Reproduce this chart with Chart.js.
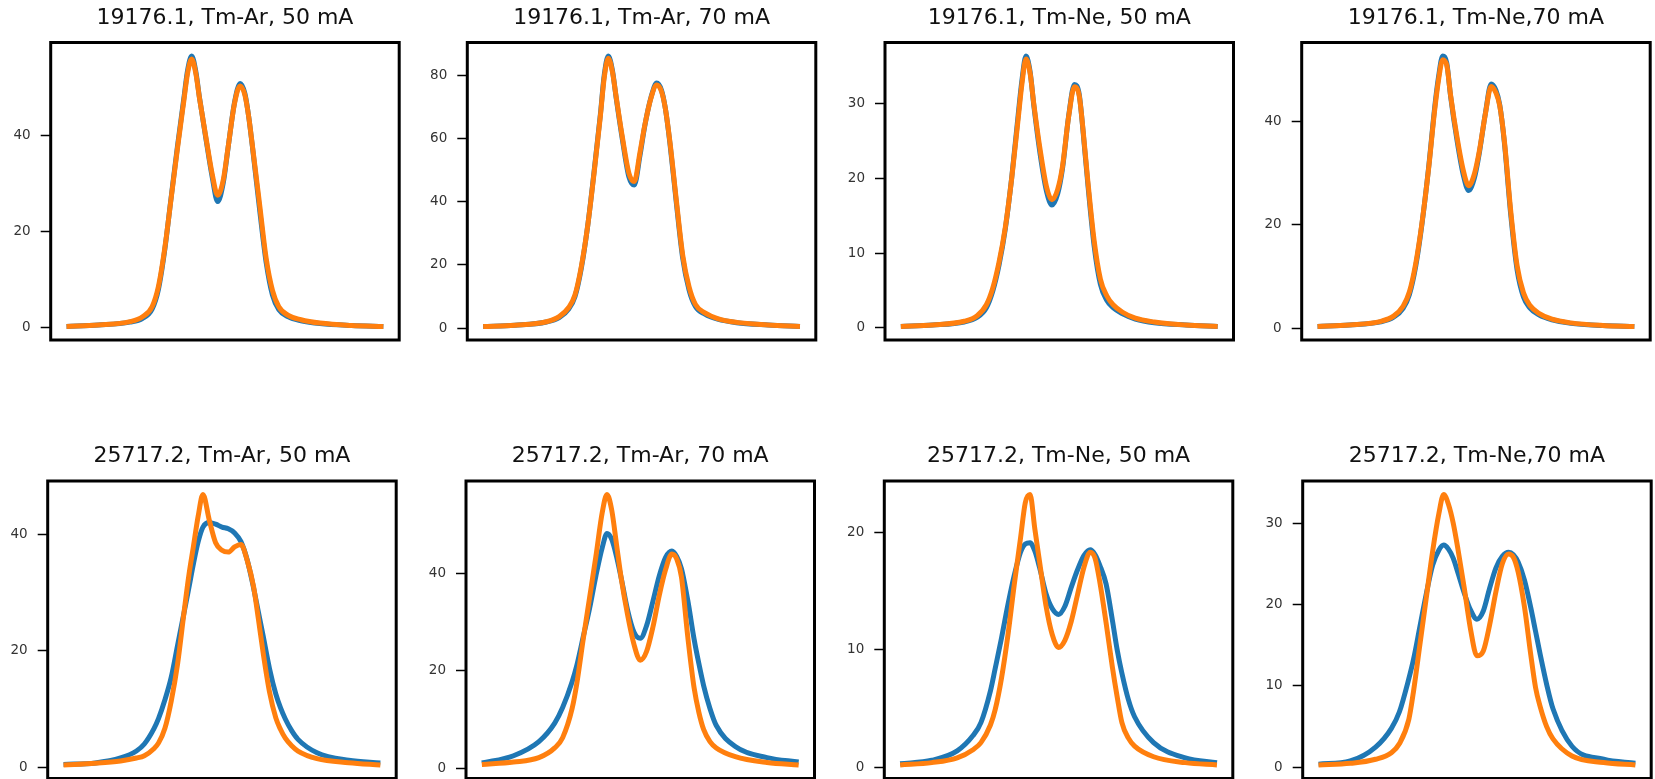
<!DOCTYPE html>
<html>
<head>
<meta charset="utf-8">
<script src="https://cdn.jsdelivr.net/npm/chart.js@4.4.1/dist/chart.umd.min.js"></script>
<style>
  html, body { margin: 0; padding: 0; background: #fff; overflow: hidden; }
  #wrap { position: relative; width: 1655px; height: 779px; }
  #wrap canvas { position: absolute; }
</style>
</head>
<body>
<div id="wrap"></div>
<script>
// sample positions along the (hidden) x axis, 0..100
const xTop = [0, 10, 20, 24, 27, 29, 31, 33, 35, 37, 38.2, 39.5, 40.8, 42, 44, 46, 47.7, 49.5, 51, 53, 54.8, 56.3, 57.5, 59, 61, 63, 65, 67, 70, 74, 80, 90, 100]
const xBottom = [0, 10, 18, 23, 25.5, 28.5, 30, 32, 34, 36, 38, 39.5, 41, 42.5, 44, 46, 48, 50, 52, 54, 56, 58, 60, 61.5, 63, 65, 67, 68.5, 70, 72, 74, 80, 90, 100]

// 19176.1 line
const ar50Blue19176 = [0.3, 0.6, 1.2, 2.0, 3.9, 8.0, 16.2, 27, 37.6, 47.5, 53.4, 56.4, 53.2, 47.6, 39.2, 31.2, 26.2, 30.2, 37.4, 46.7, 50.7, 48.6, 43.8, 35.7, 24.2, 13.6, 6.8, 3.8, 2.3, 1.5, 0.9, 0.5, 0.3]
const ar50Orange19176 = [0.3, 0.6, 1.3, 2.3, 4.4, 8.6, 16.5, 26.8, 37.2, 47, 52.8, 55.8, 52.8, 47.5, 39.5, 31.8, 27.5, 30.8, 37.5, 46.5, 50.2, 48.3, 43.8, 36, 25.3, 14.5, 7.8, 4.4, 2.6, 1.7, 1.0, 0.5, 0.3]
const ar70Blue19176 = [0.5, 0.9, 1.9, 3.3, 6.0, 10, 19, 32.3, 49.3, 67.5, 79.8, 86, 81.5, 72.7, 59.3, 47.8, 45.2, 54.5, 63.8, 73, 77.5, 75.2, 69.5, 58, 39.4, 22, 12, 6.8, 4.4, 2.8, 1.7, 1.0, 0.5]
const ar70Orange19176 = [0.5, 0.9, 2.0, 3.6, 6.5, 10.5, 19.5, 32.3, 48.9, 67, 79, 85.3, 81, 73, 60, 49, 46.3, 55.5, 64, 72.8, 76.8, 74.8, 69.5, 58.5, 40.2, 23, 13, 7.5, 4.8, 3.0, 1.8, 1.0, 0.5]
const ne50Blue19176 = [0.2, 0.4, 0.8, 1.4, 2.7, 4.9, 8.4, 13.3, 20.1, 28.3, 33, 36.3, 34.2, 29.6, 23.1, 18.2, 16.4, 17.9, 21.2, 28.4, 32.5, 31.2, 26.3, 19.3, 11, 5.8, 3.7, 2.7, 1.9, 1.2, 0.7, 0.4, 0.2]
const ne50Orange19176 = [0.2, 0.4, 0.9, 1.6, 3.1, 5.3, 8.8, 13.5, 20, 27.8, 32.5, 35.9, 34, 29.8, 23.7, 18.8, 17.1, 18.5, 21.5, 28.3, 32.2, 31, 26.5, 19.7, 11.7, 6.5, 4.3, 3.1, 2.1, 1.3, 0.8, 0.4, 0.2]
const ne70Blue19176 = [0.3, 0.6, 1.2, 2.1, 3.8, 6.5, 12, 20.3, 30.7, 42.8, 48.6, 52.6, 51.2, 44.8, 36.4, 29.6, 26.6, 29, 33.6, 41.6, 47.2, 46, 43.2, 35.7, 21.8, 11.2, 6.0, 3.9, 2.5, 1.6, 0.9, 0.5, 0.3]
const ne70Orange19176 = [0.3, 0.6, 1.3, 2.3, 4.2, 7, 12.5, 20.5, 30.5, 42.3, 48, 51.9, 50.8, 45, 37, 30.5, 27.5, 29.8, 34, 41.5, 46.7, 45.5, 43, 36, 22.5, 12, 6.8, 4.4, 2.8, 1.7, 1.0, 0.5, 0.3]

// 25717.2 line
const ar50Blue25717 = [0.5, 0.75, 1.6, 2.8, 4.0, 6.6, 8.4, 11.6, 15.5, 21, 26.5, 30.7, 35, 38.8, 41.3, 42.1, 41.8, 41.3, 41, 40.3, 38.8, 35.6, 30.8, 26.7, 22.6, 17, 12.6, 10.2, 8.3, 6.3, 4.8, 2.5, 1.2, 0.75]
const ar50Orange25717 = [0.4, 0.7, 1.1, 1.6, 2.0, 3.2, 4.2, 6.7, 11.4, 17.8, 26.5, 32.8, 38, 43.2, 46.9, 42.5, 38.6, 37.3, 37.0, 37.9, 38.3, 35.5, 31, 25.5, 19.7, 13, 8.5, 6.5, 5.0, 3.7, 2.8, 1.5, 0.8, 0.4]
const ar70Blue25717 = [1.1, 2.6, 5.5, 9.3, 12.5, 17.8, 21.2, 27, 32.8, 39.5, 45.3, 48.2, 47, 43.5, 39, 32.5, 28, 26.7, 29.3, 34.3, 39.5, 43.3, 44.6, 43.5, 41, 34.5, 26.5, 21.5, 17, 12.3, 8.8, 4.5, 2.2, 1.3]
const ar70Orange25717 = [0.8, 1.3, 2.2, 4.2, 6.3, 12.3, 17.5, 26.5, 35, 43.5, 52.5, 56.2, 53, 46, 39, 31.5, 25.5, 22.2, 24, 29, 35.5, 40.8, 44, 43, 39.3, 27, 16.5, 11.5, 8.0, 5.5, 4.2, 2.4, 1.2, 0.7]
const ne50Blue25717 = [0.3, 0.6, 1.4, 2.7, 3.8, 6.5, 8.4, 11, 13.8, 16.3, 18.3, 19, 19.1, 18.4, 17, 14.8, 13.5, 13.0, 13.7, 15.3, 16.8, 18, 18.5, 18.1, 17.2, 15.6, 12.5, 10, 8, 5.8, 4.3, 2.1, 0.8, 0.4]
const ne50Orange25717 = [0.2, 0.4, 0.8, 1.5, 2.1, 3.6, 4.9, 7.6, 11.2, 15.5, 19.5, 22.5, 23.2, 20.3, 17.5, 13.8, 11.3, 10.2, 10.8, 12.4, 14.7, 17, 18.3, 17.8, 15.8, 12.3, 8.5, 6.0, 3.8, 2.5, 1.8, 0.9, 0.4, 0.2]
const ne70Blue25717 = [0.4, 0.8, 2.5, 4.8, 6.8, 10.9, 13.3, 17.3, 21.3, 24.8, 26.7, 27.3, 26.8, 25.7, 23.9, 21.4, 19.3, 18.2, 19.2, 22, 24.5, 25.9, 26.4, 26.1, 25.2, 23, 19.6, 16.7, 13.8, 10.2, 7.2, 2.6, 1.0, 0.5]
const ne70Orange25717 = [0.3, 0.5, 1.0, 1.8, 2.9, 5.9, 9.4, 15.1, 20.8, 26.5, 31.2, 33.5, 32.3, 30, 26.8, 22, 16.9, 13.7, 14.3, 17.5, 21.6, 25, 26.2, 25.8, 24, 19.7, 13.8, 9.8, 7.4, 5.0, 3.5, 1.4, 0.6, 0.3]

const titles = [
  "19176.1, Tm-Ar, 50 mA", "19176.1, Tm-Ar, 70 mA", "19176.1, Tm-Ne, 50 mA", "19176.1, Tm-Ne,70 mA",
  "25717.2, Tm-Ar, 50 mA", "25717.2, Tm-Ar, 70 mA", "25717.2, Tm-Ne, 50 mA", "25717.2, Tm-Ne,70 mA"
]
const tickSteps = [20, 20, 10, 20, 20, 20, 10, 10]

const series = [
  [xTop, ar50Blue19176, ar50Orange19176],
  [xTop, ar70Blue19176, ar70Orange19176],
  [xTop, ne50Blue19176, ne50Orange19176],
  [xTop, ne70Blue19176, ne70Orange19176],
  [xBottom, ar50Blue25717, ar50Orange25717],
  [xBottom, ar70Blue25717, ar70Orange25717],
  [xBottom, ne50Blue25717, ne50Orange25717],
  [xBottom, ne70Blue25717, ne70Orange25717]
]

// where each plot box sits on the page
const boxLeft = [50.7, 467.3, 885, 1301.7, 47.7, 466, 884.3, 1302.7]
const rowTop = [42.5, 481]
const boxWidth = 348.5
const boxHeight = 297.5
const axisWidth = 60

const font = "DejaVu Sans"

const frame = {
  id: "frame",
  afterDatasetsDraw(chart) {
    const { ctx, chartArea: a } = chart
    ctx.save()
    ctx.strokeStyle = "#000"
    ctx.lineWidth = 3
    ctx.strokeRect(a.left, a.top, a.right - a.left, a.bottom - a.top)
    ctx.restore()
  }
}

const wrap = document.getElementById("wrap")

series.forEach(([xs, blue, orange], i) => {
  const top = rowTop[i < 4 ? 0 : 1]
  const cLeft = Math.floor(boxLeft[i] - axisWidth)
  const cTop = Math.floor(top - 42.5)
  const padLeft = boxLeft[i] - axisWidth - cLeft
  const padTop = top - 42.5 - cTop
  const width = 415
  const height = Math.ceil(padTop + 42.5 + boxHeight + 20)

  const canvas = document.createElement("canvas")
  canvas.width = width
  canvas.height = height
  canvas.style.left = cLeft + "px"
  canvas.style.top = cTop + "px"
  canvas.style.width = width + "px"
  canvas.style.height = height + "px"
  wrap.appendChild(canvas)

  const all = blue.concat(orange)
  const lo = Math.min(...all)
  const hi = Math.max(...all)
  const pad = (hi - lo) * 0.05

  new Chart(canvas, {
    type: "line",
    data: {
      datasets: [
        {
          data: xs.map((x, k) => ({ x, y: blue[k] })),
          borderColor: "#1f77b4",
          order: 2
        },
        {
          data: xs.map((x, k) => ({ x, y: orange[k] })),
          borderColor: "#ff7f0e",
          order: 1
        }
      ]
    },
    options: {
      responsive: false,
      animation: false,
      events: [],
      devicePixelRatio: 1,
      layout: {
        padding: {
          left: padLeft,
          top: padTop,
          right: width - padLeft - axisWidth - boxWidth,
          bottom: height - padTop - 42.5 - boxHeight
        }
      },
      elements: {
        point: { radius: 0 },
        line: { borderWidth: 5, cubicInterpolationMode: "monotone", borderJoinStyle: "round", fill: false }
      },
      plugins: {
        legend: { display: false },
        tooltip: { enabled: false },
        title: {
          display: true,
          text: titles[i],
          fullSize: false,
          color: "#111",
          font: { family: font, size: 22, weight: "normal", lineHeight: 1.2 },
          padding: { top: 5, bottom: 11.1 }
        }
      },
      scales: {
        x: { type: "linear", min: -5, max: 105, display: false },
        y: {
          min: lo - pad,
          max: hi + pad,
          afterFit(scale) { scale.width = axisWidth },
          border: { display: false },
          grid: { drawOnChartArea: false, drawTicks: true, tickLength: 10, tickColor: "#000", tickWidth: 1.5 },
          ticks: {
            stepSize: tickSteps[i],
            includeBounds: false,
            padding: 10,
            color: "#333",
            font: { family: font, size: 13.5 }
          }
        }
      }
    },
    plugins: [frame]
  })
})
</script>
</body>
</html>
